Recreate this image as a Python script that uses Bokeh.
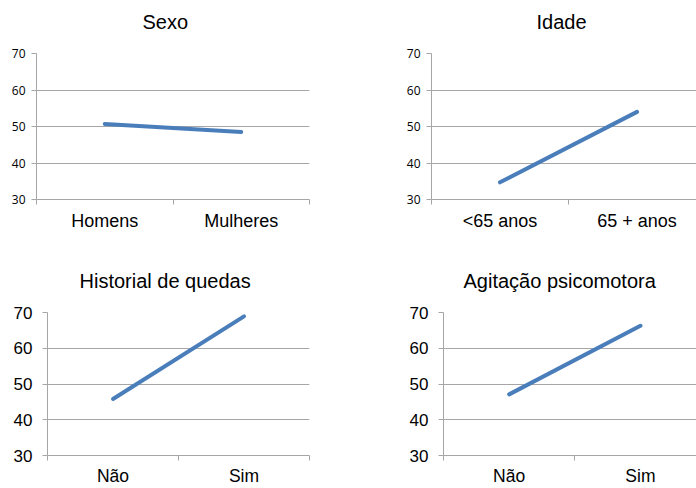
from bokeh.plotting import figure
from bokeh.layouts import column, row
from bokeh.models import FixedTicker, Range1d, Title
from bokeh.embed import file_html
from bokeh.resources import INLINE

# ---- data ----
sexo_cats = ["Homens", "Mulheres"]
sexo_vals = [50.7, 48.5]

idade_cats = ["<65 anos", "65 + anos"]
idade_vals = [34.7, 54.0]

quedas_cats = ["Não", "Sim"]
quedas_vals = [45.8, 68.9]

agit_cats = ["Não", "Sim"]
agit_vals = [47.1, 66.3]

y_ticks = [30, 40, 50, 60, 70]

titles = ["Sexo", "Idade", "Historial de quedas", "Agitação psicomotora"]

LINE = "#4a7ebb"
GRID = "#a6a6a6"
FONT = "Liberation Sans"


def panel(title, cats, vals, left, right, top, bottom, x_end, title_off,
          title_gap, title_stand,
          ytick_font, ytick_size, ystand, cat_size, cat_stand):
    p = figure(width=348, height=244, output_backend="svg", toolbar_location=None,
               x_range=Range1d(0, x_end), y_range=Range1d(30, 70),
               min_border_left=left, min_border_right=right,
               min_border_top=top, min_border_bottom=bottom)
    p.title = None
    if title_gap:
        spacer = Title(text=" ", standoff=title_gap, text_font_size="1px")
        p.add_layout(spacer, "above")
    t = Title(text=title, align="left", offset=title_off, standoff=title_stand,
              vertical_align="bottom",
              text_font=FONT, text_font_size="20px", text_font_style="normal",
              text_color="#000000")
    p.add_layout(t, "above")
    p.outline_line_color = None
    p.background_fill_color = "white"
    p.border_fill_color = "white"

    xs = [i + 0.5 for i in range(len(cats))]
    p.line(xs, vals, line_color=LINE, line_width=4, line_cap="round")

    # x axis
    p.xaxis.ticker = FixedTicker(ticks=xs, minor_ticks=list(range(len(cats) + 1)))
    p.xaxis.major_label_overrides = {x: c for x, c in zip(xs, cats)}
    p.xaxis.major_tick_out = 0
    p.xaxis.major_tick_in = 0
    p.xaxis.minor_tick_out = 5
    p.xaxis.minor_tick_in = 0
    p.xaxis.minor_tick_line_color = GRID
    p.xaxis.axis_line_color = GRID
    p.xaxis.major_label_text_font = FONT
    p.xaxis.major_label_text_font_size = cat_size
    p.xaxis.major_label_text_color = "#000000"
    p.xaxis.major_label_standoff = cat_stand

    # y axis
    p.yaxis.ticker = FixedTicker(ticks=y_ticks, minor_ticks=[])
    p.yaxis.major_tick_out = 5
    p.yaxis.major_tick_in = 0
    p.yaxis.major_tick_line_color = GRID
    p.yaxis.axis_line_color = GRID
    p.yaxis.major_label_text_font = ytick_font
    p.yaxis.major_label_text_font_size = ytick_size
    p.yaxis.major_label_text_color = "#000000"
    p.yaxis.major_label_standoff = ystand

    p.xgrid.grid_line_color = None
    p.ygrid.ticker = FixedTicker(ticks=y_ticks)
    p.ygrid.grid_line_color = GRID
    p.ygrid.grid_line_width = 1
    return p


p1 = panel(titles[0], sexo_cats, sexo_vals, 36, 39, 53, 45, 2.0, 106,
           18, 0, "Open Sans", "12px", 6, "18px", 6)
p2 = panel(titles[1], idade_cats, idade_vals, 83, 0, 53, 45, 1.934, 105,
           18, 0, "Open Sans", "12px", 6, "18px", 6)
p3 = panel(titles[2], quedas_cats, quedas_vals, 47, 39, 68, 31, 2.0, 32,
           0, 42, FONT, "17px", 10, "17.5px", 5)
p4 = panel(titles[3], agit_cats, agit_vals, 95, 0, 68, 31, 1.927, 20,
           0, 42, FONT, "17px", 10, "17.5px", 5)

layout = column(row(p1, p2), row(p3, p4))

open("out.html", "w").write(file_html(layout, INLINE))
